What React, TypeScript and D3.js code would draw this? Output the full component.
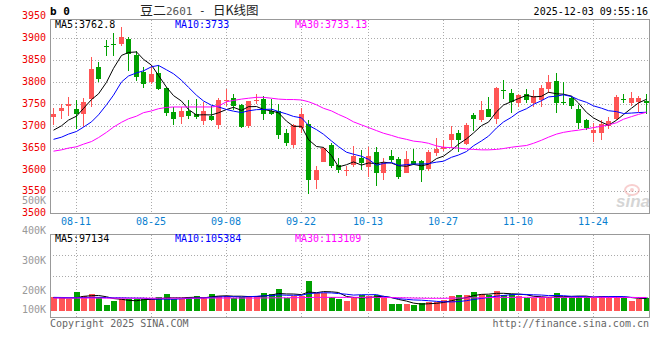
import React, { useRef, useEffect } from 'react';
import * as d3 from 'd3';

// 豆二2601 日K, 2025-08-06 .. 2025-12-03
const opens = [3720, 3733, 3746, 3739, 3727, 3761, 3834, 3883, 3887, 3887,
  3898, 3862, 3824, 3800, 3821, 3787, 3731, 3721, 3733, 3726,
  3712, 3723, 3702, 3756, 3764, 3748, 3700, 3758, 3762, 3733,
  3733, 3684, 3656, 3695, 3705, 3577, 3618, 3656, 3610, 3597,
  3610, 3627, 3605, 3639, 3593, 3631, 3624, 3593, 3619, 3619,
  3601, 3638, 3646, 3668, 3684, 3658, 3725, 3713, 3738, 3715,
  3782, 3774, 3753, 3772, 3753, 3759, 3784, 3802, 3755, 3763,
  3738, 3713, 3684, 3684, 3700, 3716, 3761, 3753, 3755, 3757];
const highs = [3740, 3750, 3765, 3758, 3763, 3857, 3845, 3895, 3912, 3925,
  3902, 3872, 3834, 3838, 3838, 3789, 3742, 3744, 3758, 3762,
  3754, 3746, 3764, 3784, 3773, 3750, 3757, 3773, 3767, 3762,
  3750, 3693, 3704, 3740, 3713, 3608, 3651, 3661, 3627, 3608,
  3654, 3645, 3652, 3652, 3627, 3645, 3629, 3643, 3648, 3621,
  3645, 3673, 3667, 3700, 3690, 3706, 3730, 3757, 3765, 3788,
  3805, 3784, 3772, 3784, 3782, 3793, 3816, 3820, 3801, 3768,
  3747, 3715, 3706, 3713, 3721, 3770, 3772, 3778, 3767, 3772];
const lows = [3702, 3716, 3723, 3693, 3697, 3742, 3800, 3860, 3860, 3883,
  3826, 3803, 3787, 3796, 3781, 3723, 3702, 3704, 3716, 3716,
  3702, 3710, 3693, 3746, 3737, 3696, 3696, 3750, 3714, 3725,
  3669, 3653, 3650, 3684, 3543, 3555, 3617, 3604, 3591, 3586,
  3606, 3599, 3584, 3563, 3576, 3618, 3579, 3591, 3611, 3572,
  3596, 3630, 3643, 3649, 3641, 3656, 3687, 3709, 3720, 3704,
  3761, 3729, 3744, 3751, 3744, 3742, 3776, 3730, 3747, 3738,
  3693, 3690, 3664, 3668, 3692, 3713, 3753, 3746, 3731, 3727];
const closes = [3728, 3741, 3749, 3726, 3754, 3830, 3806, 3881, 3885, 3902,
  3864, 3812, 3796, 3819, 3784, 3730, 3716, 3733, 3723, 3721,
  3733, 3714, 3758, 3760, 3746, 3698, 3756, 3760, 3727, 3728,
  3678, 3660, 3701, 3727, 3575, 3600, 3650, 3607, 3598, 3600,
  3632, 3614, 3631, 3591, 3616, 3622, 3584, 3624, 3613, 3599,
  3641, 3648, 3652, 3681, 3668, 3702, 3715, 3736, 3721, 3786,
  3779, 3755, 3770, 3758, 3768, 3786, 3801, 3753, 3753, 3746,
  3707, 3694, 3690, 3704, 3711, 3765, 3758, 3763, 3764, 3753];
const volumes = [115, 106, 103, 162, 128, 143, 114, 49, 85, 97,
  97, 97, 97, 97, 114, 143, 97, 97, 114, 125,
  114, 143, 128, 128, 106, 114, 128, 128, 154, 143,
  185, 106, 125, 128, 256, 154, 154, 114, 100, 85,
  114, 134, 128, 134, 106, 57, 57, 57, 48, 63,
  71, 77, 91, 125, 134, 134, 162, 142, 134, 171,
  134, 142, 128, 106, 106, 114, 114, 154, 114, 114,
  128, 114, 106, 128, 114, 128, 106, 85, 97, 106].map(v => v * 1000);

// moving averages whose window reaches before the first bar
const ma5Head = [3690, 3700, 3713, 3722];
const ma10Head = [3669, 3674, 3681, 3687, 3697, 3709, 3725, 3748, 3770];
const ma30Line = [3642, 3645, 3649, 3652, 3658, 3664, 3673, 3685, 3697, 3708,
  3716, 3722, 3730, 3734, 3739, 3742, 3743, 3743, 3743, 3743,
  3743, 3743, 3745, 3755, 3758, 3761, 3763, 3765, 3765, 3763,
  3761, 3760, 3760, 3759, 3755, 3748, 3740, 3734, 3726, 3718,
  3709, 3702, 3696, 3689, 3683, 3678, 3673, 3669, 3665, 3663,
  3660, 3654, 3651, 3650, 3649, 3647, 3646, 3645, 3645, 3646,
  3648, 3651, 3653, 3655, 3660, 3667, 3674, 3681, 3685, 3688,
  3690, 3693, 3696, 3699, 3702, 3707, 3715, 3721, 3726, 3731];
const volMa5Head = [112, 110, 108, 110].map(v => v * 1000);
const volMa10Head = [114, 113, 112, 112, 113, 114, 114, 112, 110].map(v => v * 1000);
const volMa30Line = [108, 108, 108, 108, 108, 108, 108, 107, 107, 107,
  107, 107, 107, 107, 107, 107, 107, 107, 107, 107,
  108, 108, 108, 108, 108, 108, 108, 108, 109, 110,
  110, 110, 111, 112, 113, 114, 114, 114, 114, 114,
  114, 114, 114, 114, 113, 112, 111, 110, 108, 107,
  106, 106, 106, 107, 108, 109, 110, 111, 112, 113,
  114, 114, 114, 114, 114, 114, 114, 114, 114, 114,
  114, 114, 114, 114, 113, 113, 113, 113, 113, 113].map(v => v * 1000);

const tickIndex = [3, 13, 23, 33, 42, 52, 62, 72];
const tickLabels = ['08-11', '08-25', '09-08', '09-22', '10-13', '10-27', '11-10', '11-24'];
const priceTicks = [3500, 3550, 3600, 3650, 3700, 3750, 3800, 3850, 3900, 3950];
const volTicks = [100000, 200000, 300000, 400000, 500000];

const RED = '#ff5555';
const GREEN = '#00a000';
const FONT = '"DejaVu Sans Mono", monospace';
const CJK = '"Noto Sans CJK SC", sans-serif';

const movingAvg = (vals: number[], n: number, head: number[]) =>
  vals.map((_, i) => (i < n - 1 ? head[i] : (d3.mean(vals.slice(i - n + 1, i + 1)) as number)));

const App = () => {
  const svgRef = useRef<SVGSVGElement>(null);

  useEffect(() => {
    draw();
  }, []);

  const draw = () => {
    const svg = d3.select(svgRef.current);
    svg.selectAll('*').remove();

    const left = 50, right = 649;
    const priceTop = 19.5, priceBottom = 213.5;
    const volTop = 234.5, volBottom = 317.5;

    const idx = d3.range(closes.length);
    const x = d3.scaleBand<number>().domain(idx).range([49.25, 649.25]);
    const cx = (i: number) => Math.round((x(i) as number) + x.bandwidth() / 2);

    const y = d3.scaleLinear().domain([3500, 3950]).range([213.3, 16.4]);
    const yv = d3.scaleLinear().domain([0, 100000]).range([310.7, 299]);
    // the volume axis labels sit on their own spacing
    const yvLabel = d3.scaleLinear().domain([200000, 500000]).range([294, 204]);

    svg.append('rect').attr('width', 660).attr('height', 360).attr('fill', '#fff');

    // grid
    const grid = svg.append('g').attr('stroke', '#aaa').attr('stroke-dasharray', '1,2').attr('shape-rendering', 'crispEdges');
    priceTicks.filter(t => t > 3500 && t < 3950).forEach(t => {
      grid.append('line').attr('x1', left).attr('x2', right).attr('y1', Math.round(y(t)) + 0.5).attr('y2', Math.round(y(t)) + 0.5);
    });
    [1, 2, 3].forEach(k => {
      const yy = Math.round(volTop + (volBottom - volTop) * k / 4) + 0.5;
      grid.append('line').attr('x1', left).attr('x2', right).attr('y1', yy).attr('y2', yy);
    });
    tickIndex.forEach(i => {
      const xx = cx(i) + 0.5;
      grid.append('line').attr('x1', xx).attr('x2', xx).attr('y1', priceTop).attr('y2', priceBottom);
      grid.append('line').attr('x1', xx).attr('x2', xx).attr('y1', volTop).attr('y2', volBottom);
    });

    // sina watermark
    const wm = svg.append('g').attr('opacity', 0.4);
    wm.append('ellipse').attr('cx', 632).attr('cy', 190).attr('rx', 7).attr('ry', 5)
      .attr('fill', 'none').attr('stroke', '#e88').attr('stroke-width', 2);
    wm.append('circle').attr('cx', 632).attr('cy', 190).attr('r', 2).attr('fill', '#e88');
    wm.append('text').attr('x', 650).attr('y', 207).attr('text-anchor', 'end')
      .style('font-family', '"Liberation Sans", Arial, sans-serif').style('font-size', '17px')
      .style('font-style', 'italic').style('font-weight', 'bold').attr('fill', '#999').text('sina');

    // candles
    const candles = svg.append('g').attr('shape-rendering', 'crispEdges');
    idx.forEach(i => {
      const up = closes[i] >= opens[i];
      const col = up ? RED : GREEN;
      const c = cx(i);
      candles.append('line').attr('x1', c + 0.5).attr('x2', c + 0.5)
        .attr('y1', y(highs[i])).attr('y2', y(lows[i])).attr('stroke', col);
      const top = y(Math.max(opens[i], closes[i]));
      const h = Math.max(1, y(Math.min(opens[i], closes[i])) - top);
      candles.append('rect').attr('x', c - 2).attr('y', top).attr('width', 5).attr('height', h).attr('fill', col);
    });

    // price moving averages
    const ma5 = movingAvg(closes, 5, ma5Head);
    const ma10 = movingAvg(closes, 10, ma10Head);
    const line = d3.line<number>().x((_, i) => cx(i) + 0.5).y(d => y(d));
    [[ma5, '#000'], [ma10, '#0000ff'], [ma30Line, '#ff00ff']].forEach(([d, col]) => {
      svg.append('path').datum(d as number[]).attr('d', line).attr('fill', 'none').attr('stroke', col as string).attr('stroke-width', 1);
    });

    // volume bars
    const bars = svg.append('g').attr('shape-rendering', 'crispEdges');
    idx.forEach(i => {
      const col = closes[i] >= opens[i] ? RED : GREEN;
      bars.append('rect').attr('x', cx(i) - 2.5).attr('y', yv(volumes[i]))
        .attr('width', 6).attr('height', yv(0) - yv(volumes[i])).attr('fill', col);
    });
    const vma5 = movingAvg(volumes, 5, volMa5Head);
    const vma10 = movingAvg(volumes, 10, volMa10Head);
    const vline = d3.line<number>().x((_, i) => cx(i) + 0.5).y(d => yv(d));
    [[vma5, '#000'], [vma10, '#0000ff'], [volMa30Line, '#ff00ff']].forEach(([d, col]) => {
      svg.append('path').datum(d as number[]).attr('d', vline).attr('fill', 'none').attr('stroke', col as string).attr('stroke-width', 1);
    });

    // frames
    const frame = svg.append('g').attr('fill', 'none').attr('stroke', '#999').attr('shape-rendering', 'crispEdges');
    frame.append('rect').attr('x', left).attr('y', priceTop).attr('width', right - left).attr('height', priceBottom - priceTop);
    frame.append('rect').attr('x', left).attr('y', volTop).attr('width', right - left).attr('height', volBottom - volTop);

    const txt = svg.append('g').style('font-family', FONT).style('font-size', '10px');

    // price axis
    priceTicks.forEach(t => {
      txt.append('text').attr('x', 46).attr('y', y(t) + 3).attr('text-anchor', 'end').attr('fill', '#ee0000').text(t);
    });
    // volume axis
    volTicks.forEach(t => {
      const yy = Math.min(yvLabel(t), 313.3);
      txt.append('text').attr('x', 46).attr('y', yy).attr('text-anchor', 'end').attr('fill', '#999').text(`${t / 1000}K`);
    });
    // date axis
    tickIndex.forEach((i, k) => {
      txt.append('text').attr('x', cx(i)).attr('y', 225).attr('text-anchor', 'middle').attr('fill', '#0a7fd0').text(tickLabels[k]);
    });

    // legends
    txt.append('text').attr('x', 55).attr('y', 28).attr('fill', '#000').text('MA5:3762.8');
    txt.append('text').attr('x', 175).attr('y', 28).attr('fill', '#0000ff').text('MA10:3733');
    txt.append('text').attr('x', 295).attr('y', 28).attr('fill', '#ff00ff').text('MA30:3733.13');
    txt.append('text').attr('x', 55).attr('y', 242).attr('fill', '#000').text('MA5:97134');
    txt.append('text').attr('x', 175).attr('y', 242).attr('fill', '#0000ff').text('MA10:105384');
    txt.append('text').attr('x', 295).attr('y', 242).attr('fill', '#ff00ff').text('MA30:113109');

    // header
    svg.append('text').attr('x', 50).attr('y', 15).style('font-family', FONT).style('font-size', '11px')
      .style('font-weight', 'bold').attr('fill', '#000').text('b 0');
    svg.append('text').attr('x', 140).attr('y', 15).style('font-size', '13px').attr('fill', '#222')
      .style('font-family', CJK).text('豆二');
    svg.append('text').attr('x', 166).attr('y', 15).style('font-size', '11px').attr('fill', '#555')
      .style('font-family', FONT).text('2601');
    svg.append('text').attr('x', 199).attr('y', 14).style('font-size', '11px').attr('fill', '#222')
      .style('font-family', FONT).text('-');
    svg.append('text').attr('x', 213).attr('y', 15).style('font-size', '12.5px').attr('fill', '#222')
      .style('font-family', CJK).text('日K线图');
    txt.append('text').attr('x', 648).attr('y', 15).attr('text-anchor', 'end').attr('fill', '#000').text('2025-12-03 09:55:16');

    // footer
    txt.append('text').attr('x', 50).attr('y', 327).attr('fill', '#666').text('Copyright 2025 SINA.COM');
    txt.append('text').attr('x', 649).attr('y', 327).attr('text-anchor', 'end').attr('fill', '#666').text('http://finance.sina.com.cn');
  };

  return (
    <svg ref={svgRef} width={660} height={360} style={{ position: 'absolute', left: 0, top: 0 }} />
  );
};

export default App;
